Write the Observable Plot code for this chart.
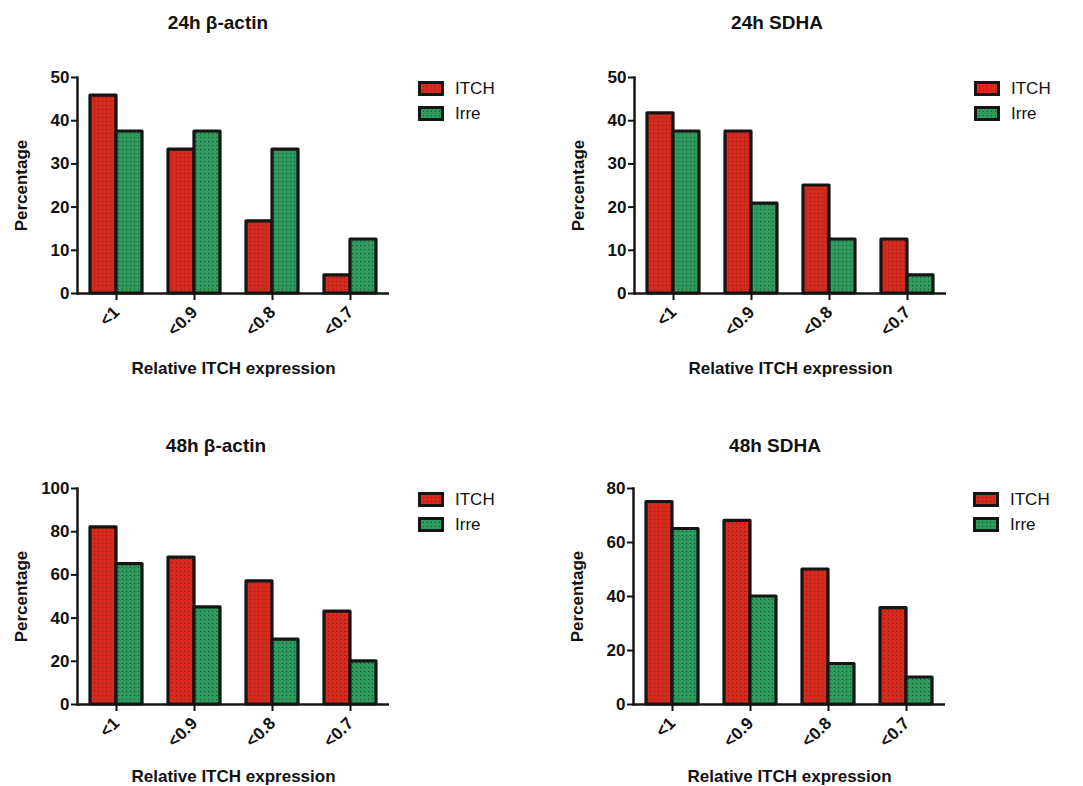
<!DOCTYPE html>
<html><head><meta charset="utf-8">
<script src="https://cdn.jsdelivr.net/npm/d3@7"></script>
<script src="https://cdn.jsdelivr.net/npm/@observablehq/plot@0.6"></script>
<style>
body{margin:0;background:#fff;font-family:"Liberation Sans",Arial,sans-serif;}
#root{position:relative;width:1083px;height:786px;overflow:hidden;}
.panel{position:absolute;}
.panel g[aria-label="y-axis label"] text, .panel g[aria-label="fx-axis label"] text{font-size:17px;}
.title{position:absolute;font-weight:bold;font-size:19px;color:#111;transform:translateX(-50%);white-space:nowrap;line-height:1;}
.leg{position:absolute;display:flex;align-items:center;font-size:17px;color:#111;line-height:1;}
.leg svg{margin-right:11px;}
</style></head>
<body>
<svg width="0" height="0" style="position:absolute">
 <defs>
  <pattern id="pr" width="4" height="4" patternUnits="userSpaceOnUse">
   <rect width="4" height="4" fill="#d52a1e"/><rect x="1" y="1" width="1" height="1" fill="#94180f"/>
  </pattern>
  <pattern id="pg" width="4" height="4" patternUnits="userSpaceOnUse">
   <rect width="4" height="4" fill="#2e9a5e"/><rect x="1" y="1" width="1" height="1" fill="#14532f"/>
  </pattern>
 </defs>
</svg>
<div id="root"></div>
<script>
const categories = ["<1", "<0.9", "<0.8", "<0.7"];
const series = ["ITCH", "Irre"];
const titles = ["24h β-actin", "24h SDHA", "48h β-actin", "48h SDHA"];
const xLabel = "Relative ITCH expression";
const yLabel = "Percentage";

const itch24Actin = [45.8, 33.3, 16.7, 4.2];
const irre24Actin = [37.5, 37.5, 33.3, 12.5];
const itch24SDHA  = [41.7, 37.5, 25.0, 12.5];
const irre24SDHA  = [37.5, 20.8, 12.5, 4.2];
const itch48Actin = [82, 68, 57, 43];
const irre48Actin = [65, 45, 30, 20];
const itch48SDHA  = [75, 68, 50, 35.7];
const irre48SDHA  = [65, 40, 15, 10];

const ticks24 = [0, 10, 20, 30, 40, 50];
const ticks48Actin = [0, 20, 40, 60, 80, 100];
const ticks48SDHA = [0, 20, 40, 60, 80];

const layout = [
  {itch: itch24Actin, irre: irre24Actin, ticks: ticks24, left: 0, top: 0, w: 540, h: 393, ml: 76, mr: 150, mt: 77, mb: 100, xo: 80, tx: 218, ty: 13, lx: 418, ly: 82},
  {itch: itch24SDHA, irre: irre24SDHA, ticks: ticks24, left: 540, top: 0, w: 543, h: 393, ml: 93, mr: 137, mt: 77, mb: 100, xo: 80, tx: 777, ty: 13, lx: 974, ly: 82},
  {itch: itch48Actin, irre: irre48Actin, ticks: ticks48Actin, left: 0, top: 410, w: 540, h: 376, ml: 76, mr: 150, mt: 78, mb: 82, xo: 77, tx: 216, ty: 436, lx: 418, ly: 493},
  {itch: itch48SDHA, irre: irre48SDHA, ticks: ticks48SDHA, left: 540, top: 410, w: 543, h: 376, ml: 92, mr: 138, mt: 78, mb: 82, xo: 77, tx: 775, ty: 436, lx: 973, ly: 493}
];

const root = document.getElementById("root");
const fills = ["url(#pr)", "url(#pg)"];

layout.forEach((p, k) => {
  const data = categories.flatMap((c, i) => [
    {cat: c, s: series[0], v: p.itch[i]},
    {cat: c, s: series[1], v: p.irre[i]}
  ]);
  const yMax = p.ticks[p.ticks.length - 1];
  const chart = Plot.plot({
    width: p.w, height: p.h,
    marginLeft: p.ml, marginRight: p.mr, marginTop: p.mt, marginBottom: p.mb,
    style: {fontFamily: "'Liberation Sans', Arial, sans-serif", fontSize: "17px", fontWeight: "bold", color: "#111", background: "transparent", overflow: "visible"},
    fx: {domain: categories, padding: 0},
    x: {domain: series, paddingInner: 0, paddingOuter: 0.5, axis: null},
    y: {domain: [0, yMax]},
    color: {domain: series, range: fills},
    marks: [
      Plot.barY(data, {fx: "cat", x: "s", y: "v", fill: "s", stroke: "#151515", strokeWidth: 3.2, strokeLinejoin: "round"}),
      Plot.ruleY([0], {stroke: "#151515", strokeWidth: 2.5}),
      Plot.frame({anchor: "left", facetAnchor: "left", stroke: "#151515", strokeWidth: 2.5}),
      Plot.axisY({ticks: p.ticks, tickSize: 6, tickPadding: 2, strokeWidth: 2, label: yLabel, labelAnchor: "center", labelArrow: "none", labelOffset: 63, fontSize: 17}),
      Plot.axisFx({anchor: "bottom", tickSize: 7, tickRotate: -45, tickPadding: 9, strokeWidth: 2, label: xLabel, labelAnchor: "center", labelArrow: "none", labelOffset: p.xo, fontSize: 17})
    ]
  });
  chart.classList.add("panel");
  chart.style.left = p.left + "px";
  chart.style.top = p.top + "px";
  root.appendChild(chart);

  const t = document.createElement("div");
  t.className = "title";
  t.textContent = titles[k];
  t.style.left = p.tx + "px";
  t.style.top = p.ty + "px";
  root.appendChild(t);

  series.forEach((s, j) => {
    const d = document.createElement("div");
    d.className = "leg";
    d.style.left = p.lx + "px";
    d.style.top = (p.ly + j * 25 - 2) + "px";
    d.innerHTML = `<svg width="26" height="15"><rect x="1.5" y="1.5" width="23" height="12" fill="${fills[j]}" stroke="#151515" stroke-width="3"/></svg><span>${s}</span>`;
    root.appendChild(d);
  });
});
</script>
</body></html>
